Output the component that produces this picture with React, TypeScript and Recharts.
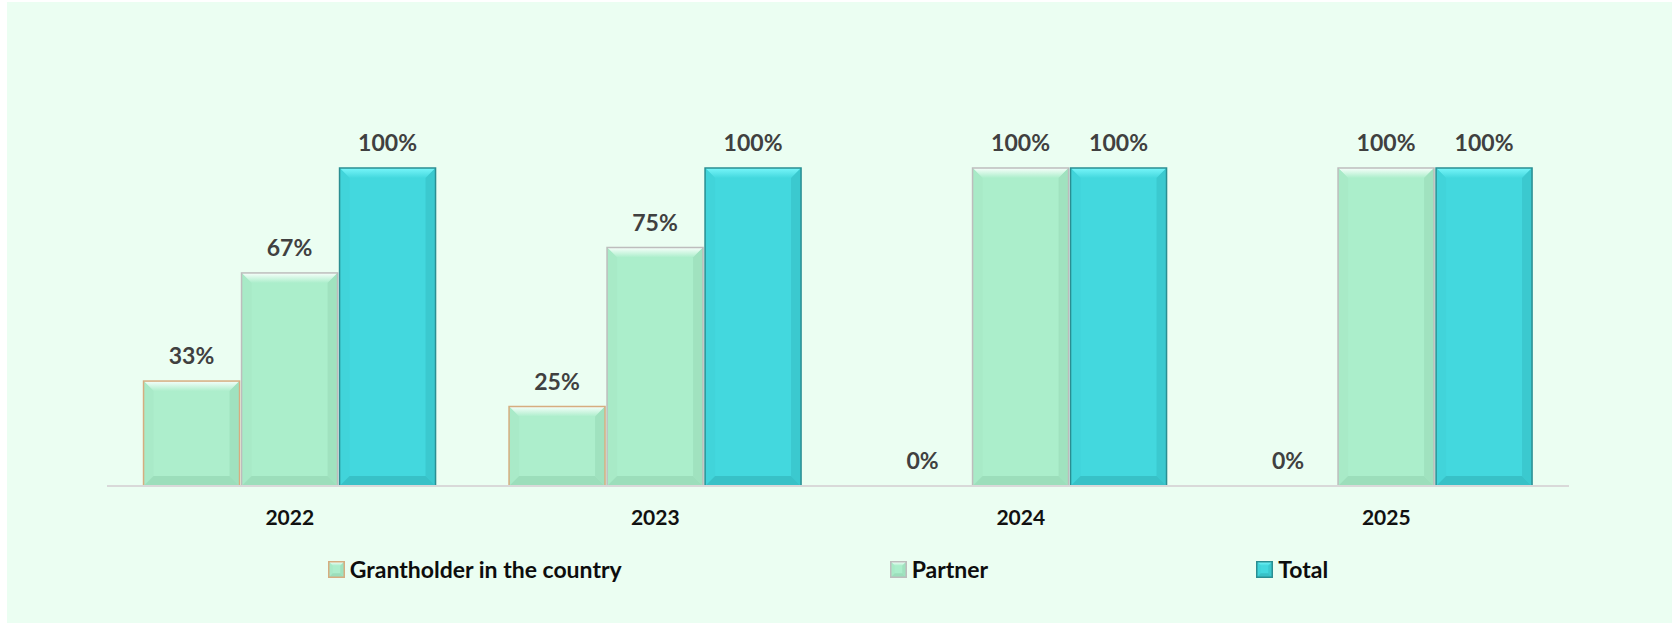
import React from "react";
import { BarChart, Bar, XAxis, YAxis, LabelList, Legend } from "recharts";

// values (share of projects, 0..1)
const YEARS = ["2022", "2023", "2024", "2025"];
const GRANTHOLDER = [0.33, 0.25, 0, 0];
const PARTNER = [0.67, 0.75, 1, 1];
const TOTAL = [1, 1, 1, 1];

const SERIES = [
  { key: "grant", name: "Grantholder in the country" },
  { key: "partner", name: "Partner" },
  { key: "total", name: "Total" },
];

const data = YEARS.map((year, i) => ({
  year,
  grant: GRANTHOLDER[i],
  partner: PARTNER[i],
  total: TOTAL[i],
}));

const FONT = "Lato, 'Open Sans', sans-serif";

type Pal = { base: string; top: string; left: string; right: string; bottom: string; stroke: string };

const PAL: Record<string, Pal> = {
  grant: { base: "#ADEECC", top: "#F6FFFB", left: "#A9EAC8", right: "#A0E2BF", bottom: "#9CDEBB", stroke: "#D6AD80" },
  partner: { base: "#ABEECB", top: "#F8FFFB", left: "#A8EAC7", right: "#A0E2BF", bottom: "#9CDEBB", stroke: "#BDBDBD" },
  total: { base: "#43D8DE", top: "#78F6FA", left: "#41D4DA", right: "#3BC9CF", bottom: "#38C1C7", stroke: "#2A8E92" },
};

function bevel(id: string, x: number, y: number, w: number, h: number, pal: Pal, size: number, sw: number) {
  if (!(h > 0) || !(w > 0)) return null;
  const b = Math.min(size, h / 2, w / 2);
  const gid = `bev-${id}`;
  return (
    <g>
      <defs>
        <linearGradient id={gid} x1="0" y1="0" x2="0" y2="1">
          <stop offset="0%" stopColor={pal.top} />
          <stop offset="100%" stopColor={pal.base} />
        </linearGradient>
      </defs>
      <rect x={x} y={y} width={w} height={h} fill={pal.base} />
      <polygon points={`${x},${y} ${x + w},${y} ${x + w - b},${y + b} ${x + b},${y + b}`} fill={`url(#${gid})`} />
      <polygon points={`${x},${y} ${x + b},${y + b} ${x + b},${y + h - b} ${x},${y + h}`} fill={pal.left} />
      <polygon points={`${x + w},${y} ${x + w},${y + h} ${x + w - b},${y + h - b} ${x + w - b},${y + b}`} fill={pal.right} />
      <polygon points={`${x},${y + h} ${x + b},${y + h - b} ${x + w - b},${y + h - b} ${x + w},${y + h}`} fill={pal.bottom} />
      <rect x={x} y={y} width={w} height={h} fill="none" stroke={pal.stroke} strokeWidth={sw} />
    </g>
  );
}

const makeShape = (key: string) => (p: any) =>
  bevel(key, Number(p.x), Number(p.y), Number(p.width), Number(p.height), PAL[key], 10, 1.5);

function LegendContent(props: any) {
  const payload = props.payload || [];
  return (
    <div
      style={{
        height: 40,
        display: "flex",
        alignItems: "center",
        justifyContent: "center",
        gap: 268,
        paddingRight: 20,
        fontFamily: FONT,
        fontWeight: 700,
        fontSize: 23,
        color: "#0d0d0d",
      }}
    >
      {payload.map((e: any) => (
        <div key={e.dataKey} style={{ display: "flex", alignItems: "center" }}>
          <svg width={17} height={17} style={{ marginRight: 5 }}>
            {bevel(`lg-${e.dataKey}`, 0.75, 0.75, 15.5, 15.5, PAL[e.dataKey], 4, 1.5)}
          </svg>
          <span>{e.value}</span>
        </div>
      ))}
    </div>
  );
}

export default function App() {
  return (
    <div style={{ position: "absolute", left: 0, top: 0, width: 1678, height: 625, background: "#ffffff" }}>
      <div style={{ position: "absolute", left: 7, top: 2, width: 1665, height: 621, background: "#EBFEF2" }} />
      <div style={{ position: "absolute", left: 0, top: 0 }}>
        <BarChart
          width={1678}
          height={625}
          data={data}
          margin={{ top: 168, right: 109, bottom: 36, left: 107 }}
          barCategoryGap="10%"
          barGap={2}
        >
          <XAxis
            dataKey="year"
            axisLine={{ stroke: "#D9D9D9", strokeWidth: 2 }}
            tickLine={false}
            tickSize={0}
            tickMargin={24}
            height={63}
            tick={{ fontSize: 21, fontWeight: 700, fill: "#111111", fontFamily: FONT }}
          />
          <YAxis hide domain={[0, 1]} />
          <Legend verticalAlign="bottom" content={<LegendContent />} />
          {SERIES.map((s) => (
            <Bar key={s.key} dataKey={s.key} name={s.name} fill={PAL[s.key].base} shape={makeShape(s.key)} isAnimationActive={false}>
              <LabelList
                dataKey={s.key}
                position="top"
                offset={17}
                formatter={(v: any) => `${Math.round(Number(v) * 100)}%`}
                style={{ fontSize: 23, fontWeight: 700, fill: "#404040", fontFamily: FONT }}
              />
            </Bar>
          ))}
        </BarChart>
      </div>
    </div>
  );
}
